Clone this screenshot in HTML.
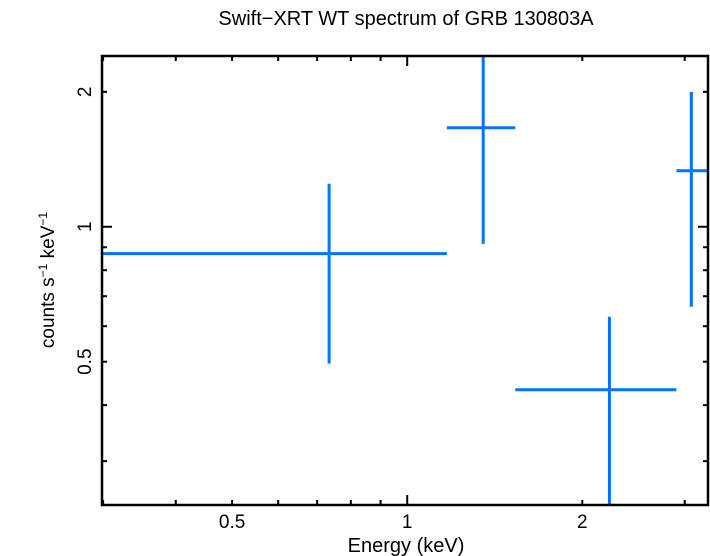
<!DOCTYPE html>
<html><head><meta charset="utf-8"><style>body{margin:0;background:#fff}svg{display:block;font-family:"Liberation Sans",sans-serif}</style></head>
<body>
<svg id="c" width="710" height="556">
<text x="406" y="25" font-size="20" text-anchor="middle">Swift−XRT WT spectrum of GRB 130803A</text>
<text x="406" y="552" font-size="20" text-anchor="middle">Energy (keV)</text>
<text transform="translate(54,280) rotate(-90)" font-size="19" text-anchor="middle">counts s<tspan dy="-7" font-size="12">−1</tspan><tspan dy="7"> keV</tspan><tspan dy="-7" font-size="12">−1</tspan></text>
<defs><clipPath id="pc"><rect x="102" y="56" width="606" height="449"/></clipPath></defs>
<g id="ticks"></g>
<g id="series" clip-path="url(#pc)"></g>
<rect x="102" y="56" width="606" height="449" fill="none" stroke="#000" stroke-width="2.5"/>
</svg>
<script>
const energyCenter=[0.734,1.351,2.227,3.08];
const energyLo=[0.3,1.17,1.534,2.903];
const energyHi=[1.17,1.534,2.903,3.35];
const rate=[0.871,1.663,0.433,1.333];
const rateLo=[0.495,0.916,0.2,0.663];
const rateHi=[1.247,2.6,0.63,2.0];
const xTickLabels=[0.5,1,2];
const yTickLabels=[0.5,1,2];
const xMinor=[0.3,0.4,0.5,0.6,0.7,0.8,0.9,1,2,3];
const yMinor=[0.3,0.4,0.5,0.6,0.7,0.8,0.9,1,2];
const L=102,R=708,T=56,B=505;
const xmin=Math.log10(0.2987),xmax=Math.log10(3.29),ymin=Math.log10(0.2395),ymax=Math.log10(2.404);
const X=v=>L+(Math.log10(v)-xmin)/(xmax-xmin)*(R-L);
const Y=v=>B-(Math.log10(v)-ymin)/(ymax-ymin)*(B-T);
const NS='http://www.w3.org/2000/svg';
function mk(t,a,p){const e=document.createElementNS(NS,t);for(const k in a)e.setAttribute(k,a[k]);p.appendChild(e);return e;}
const tg=document.getElementById('ticks');
xMinor.forEach(v=>{const x=X(v);const len=(v===1)?10:5;
 const a=mk('line',{x1:x,x2:x,y1:B,y2:B-len,stroke:'#000','stroke-width':2},tg);
 
 const b=mk('line',{x1:x,x2:x,y1:T,y2:T+len,stroke:'#000','stroke-width':2},tg);
 });
yMinor.forEach(v=>{const y=Y(v);const len=(v===1)?10:5;
 const a=mk('line',{x1:L,x2:L+len,y1:y,y2:y,stroke:'#000','stroke-width':2},tg);
 
 const b=mk('line',{x1:R,x2:R-len,y1:y,y2:y,stroke:'#000','stroke-width':2},tg);
 });
xTickLabels.forEach(v=>{const t=mk('text',{x:X(v),y:528,'font-size':19,'text-anchor':'middle'},tg);t.textContent=v;
 });
yTickLabels.forEach(v=>{const y=Y(v);const t=mk('text',{transform:`translate(91,${y}) rotate(-90)`,'font-size':19,'text-anchor':'middle'},tg);t.textContent=v;
 });
const sg=document.getElementById('series');
energyCenter.forEach((e,i)=>{const g=mk('g',{stroke:'#0073ff','stroke-width':3},sg);
 
 mk('line',{x1:X(energyLo[i]),x2:X(energyHi[i]),y1:Y(rate[i]),y2:Y(rate[i])},g);
 mk('line',{x1:X(e),x2:X(e),y1:Y(rateLo[i]),y2:Y(rateHi[i])},g);});
</script>
</body></html>
